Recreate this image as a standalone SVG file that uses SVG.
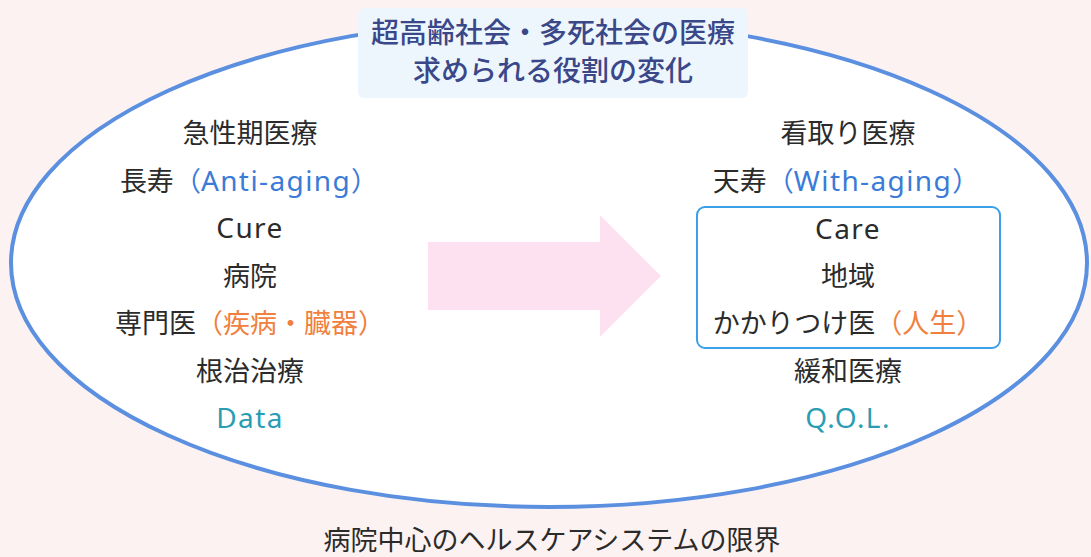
<svg xmlns="http://www.w3.org/2000/svg" width="1091" height="557" viewBox="0 0 1091 557">
<style>
text{font-family:"Noto Sans CJK JP","Noto Sans",sans-serif;text-anchor:middle;}
.t{font-size:27px;fill:#2b2b2b;}
.l{font-family:"Noto Sans","Noto Sans CJK JP",sans-serif;letter-spacing:1.4px;font-size:28px;}
.b{fill:#3a7bd8;}
.o{fill:#f0803e;}
.c{fill:#2a9db4;}
.h{font-size:28px;fill:#3a4788;font-weight:500;}
</style>
<rect x="0" y="0" width="1091" height="557" fill="#fcf2f1"/>
<g id="frame">
<ellipse cx="549" cy="263" rx="538" ry="244" fill="#ffffff" stroke="#5b8fe0" stroke-width="4"/>
</g>
<g id="title">
<rect x="358" y="8" width="390" height="90" rx="6" fill="#eef6fd"/>
<text class="h" x="553" y="43">超高齢社会・多死社会の医療</text>
<text class="h" x="553" y="81">求められる役割の変化</text>
</g>
<g id="connectors">
<polygon points="428,242 600,242 600,215 661,276 600,337 600,310 428,310" fill="#fde1f0"/>
</g>
<g id="left">
<text class="t" x="250" y="143">急性期医療</text>
<text class="t" x="249" y="191">長寿<tspan class="b">（<tspan class="l">Anti-aging</tspan>）</tspan></text>
<text class="t l" x="250" y="238">Cure</text>
<text class="t" x="250" y="286">病院</text>
<text class="t" x="250" y="333">専門医<tspan class="o">（疾病・臓器）</tspan></text>
<text class="t" x="250" y="381">根治治療</text>
<text class="t l c" x="250" y="428">Data</text>
</g>
<g id="right">
<text class="t" x="848" y="143">看取り医療</text>
<text class="t" x="846" y="191">天寿<tspan class="b">（<tspan class="l">With-aging</tspan>）</tspan></text>
<rect x="697" y="207" width="303" height="141" rx="8" fill="none" stroke="#3aa0e8" stroke-width="2"/>
<text class="t l" x="848" y="239">Care</text>
<text class="t" x="848" y="286">地域</text>
<text class="t" x="848" y="333">かかりつけ医<tspan class="o">（人生）</tspan></text>
<text class="t" x="848" y="381">緩和医療</text>
<text class="t l c" x="848" y="428">Q.O.L.</text>
</g>
<g id="caption">
<text class="t" x="552" y="550">病院中心のヘルスケアシステムの限界</text>
</g>
</svg>
